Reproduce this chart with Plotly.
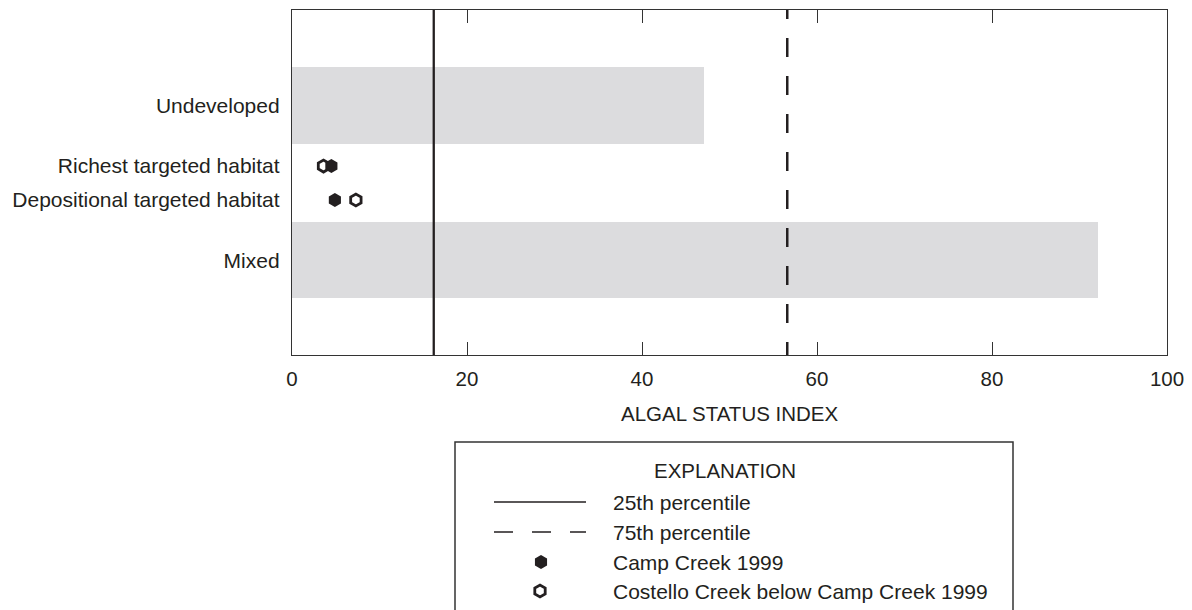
import plotly.graph_objects as go

# ---- data -------------------------------------------------------------
categories = ["Undeveloped", "Richest targeted habitat",
              "Depositional targeted habitat", "Mixed"]

bar_categories = ["Undeveloped", "Mixed"]
bar_values = [47.1, 92.1]

percentile_25 = 16.2
percentile_75 = 56.6

camp_categories = ["Richest targeted habitat", "Depositional targeted habitat"]
camp_values = [4.5, 4.9]

costello_categories = ["Richest targeted habitat", "Depositional targeted habitat"]
costello_values = [3.6, 7.3]

x_ticks = [0, 20, 40, 60, 80, 100]

# ---- layout constants -----------------------------------------------------
W, H = 1192, 610
PLOT_L, PLOT_R, PLOT_T, PLOT_B = 292, 1167, 10, 355

# vertical placement of each row along the (numeric) category axis
row_pos = {
    "Undeveloped": 4.55,
    "Richest targeted habitat": 2.77,
    "Depositional targeted habitat": 1.77,
    "Mixed": 0.0,
}
Y_RANGE = [-2.79, 7.36]
BAR_WIDTH = 2.25
PX_PER_UNIT = (PLOT_B - PLOT_T) / (Y_RANGE[1] - Y_RANGE[0])

INK = "#231f20"
FONT = "Liberation Sans, Arial, sans-serif"
FS = 21

FILLED = dict(symbol="hexagon", size=14, color=INK, line=dict(width=0))
OPEN = dict(symbol="hexagon-open", size=12, color=INK,
            line=dict(color=INK, width=2.8))

fig = go.Figure()

# gray range bars
fig.add_trace(go.Bar(
    orientation="h",
    x=bar_values,
    y=[row_pos[c] for c in bar_categories],
    base=0,
    width=BAR_WIDTH,
    marker=dict(color="#dcdcde", line=dict(width=0)),
    showlegend=False, hoverinfo="skip",
))

# percentile reference lines
fig.add_trace(go.Scatter(
    x=[percentile_25, percentile_25], y=[Y_RANGE[0], Y_RANGE[1]],
    mode="lines", line=dict(color=INK, width=2.3),
    showlegend=False, hoverinfo="skip",
))
# the dashed line starts a little above the frame so its dash phase
# lines up with the top border
fig.add_trace(go.Scatter(
    x=[percentile_75, percentile_75],
    y=[Y_RANGE[1] + PLOT_T / PX_PER_UNIT, Y_RANGE[0]],
    mode="lines", line=dict(color=INK, width=2.5, dash="19px,19px"),
    showlegend=False, hoverinfo="skip",
))

# site markers
fig.add_trace(go.Scatter(
    x=costello_values, y=[row_pos[c] for c in costello_categories],
    mode="markers", marker=OPEN,
    showlegend=False, hoverinfo="skip",
))
fig.add_trace(go.Scatter(
    x=camp_values, y=[row_pos[c] for c in camp_categories],
    mode="markers", marker=FILLED,
    showlegend=False, hoverinfo="skip",
))

# ---- explanation box, drawn on a pixel-space overlay axis pair -----------------
LEG_LINE_X = [494, 586]
LEG_TEXT_X = 611
LEG_MARK_X = 541
leg_rows = {
    "25th percentile": 502,
    "75th percentile": 532,
    "Camp Creek 1999": 562,
    "Costello Creek below Camp Creek 1999": 591,
}

fig.add_trace(go.Scatter(
    x=LEG_LINE_X, y=[leg_rows["25th percentile"]] * 2,
    xaxis="x2", yaxis="y2", mode="lines",
    line=dict(color=INK, width=1.5), showlegend=False, hoverinfo="skip",
))
fig.add_trace(go.Scatter(
    x=LEG_LINE_X, y=[leg_rows["75th percentile"]] * 2,
    xaxis="x2", yaxis="y2", mode="lines",
    line=dict(color=INK, width=1.5, dash="19px,19px"),
    showlegend=False, hoverinfo="skip",
))
fig.add_trace(go.Scatter(
    x=[LEG_MARK_X], y=[leg_rows["Camp Creek 1999"]],
    xaxis="x2", yaxis="y2", mode="markers", marker=FILLED,
    showlegend=False, hoverinfo="skip",
))
fig.add_trace(go.Scatter(
    x=[LEG_MARK_X - 1], y=[leg_rows["Costello Creek below Camp Creek 1999"]],
    xaxis="x2", yaxis="y2", mode="markers", marker=OPEN,
    showlegend=False, hoverinfo="skip",
))

annotations = [
    dict(text="ALGAL STATUS INDEX", xref="paper", yref="paper",
         x=(PLOT_L + PLOT_R) / 2 / W, y=1 - 413 / H,
         xanchor="center", yanchor="middle", showarrow=False,
         font=dict(size=20.5, color=INK, family=FONT)),
    dict(text="EXPLANATION", xref="x2", yref="y2", x=725, y=470,
         xanchor="center", yanchor="middle", showarrow=False,
         font=dict(size=20.5, color=INK, family=FONT)),
]
for label, ypix in leg_rows.items():
    annotations.append(dict(
        text=label, xref="x2", yref="y2", x=LEG_TEXT_X, y=ypix,
        xanchor="left", yanchor="middle", showarrow=False,
        font=dict(size=FS, color=INK, family=FONT)))

shapes = [
    dict(type="rect", xref="x2", yref="y2", x0=455, x1=1013, y0=442, y1=640,
         line=dict(color="#333333", width=1.5), fillcolor="rgba(0,0,0,0)",
         layer="above"),
]

axis_line = dict(color="#333333", width=1.3)

fig.update_layout(
    width=W, height=H,
    margin=dict(l=0, r=0, t=0, b=0, pad=0),
    paper_bgcolor="white", plot_bgcolor="rgba(0,0,0,0)",
    font=dict(family=FONT, size=FS, color=INK),
    showlegend=False,
    bargap=0,
    xaxis=dict(
        domain=[PLOT_L / W, PLOT_R / W], range=[0, 100],
        tickmode="array", tickvals=x_ticks, ticktext=[str(v) for v in x_ticks],
        ticks="inside", ticklen=13, tickwidth=1.3, tickcolor="#333333",
        showline=True, linecolor=axis_line["color"], linewidth=axis_line["width"],
        mirror="ticks", showgrid=False, zeroline=False,
        tickfont=dict(size=20.5, color=INK, family=FONT),
        ticklabelstandoff=5, automargin=False, fixedrange=True,
    ),
    yaxis=dict(
        domain=[1 - PLOT_B / H, 1 - PLOT_T / H], range=Y_RANGE,
        tickmode="array", tickvals=[row_pos[c] for c in categories],
        ticktext=categories, ticks="",
        showline=True, linecolor=axis_line["color"], linewidth=axis_line["width"],
        mirror=True, showgrid=False, zeroline=False,
        tickfont=dict(size=FS, color=INK, family=FONT),
        ticklabelstandoff=7, automargin=False, fixedrange=True,
    ),
    xaxis2=dict(domain=[0, 1], range=[0, W], anchor="y2", visible=False,
                showgrid=False, zeroline=False, fixedrange=True),
    yaxis2=dict(domain=[0, 1], range=[H, 0], anchor="x2", visible=False,
                showgrid=False, zeroline=False, fixedrange=True),
    annotations=annotations,
    shapes=shapes,
)

fig.write_html("out.html", config={"displayModeBar": False})
